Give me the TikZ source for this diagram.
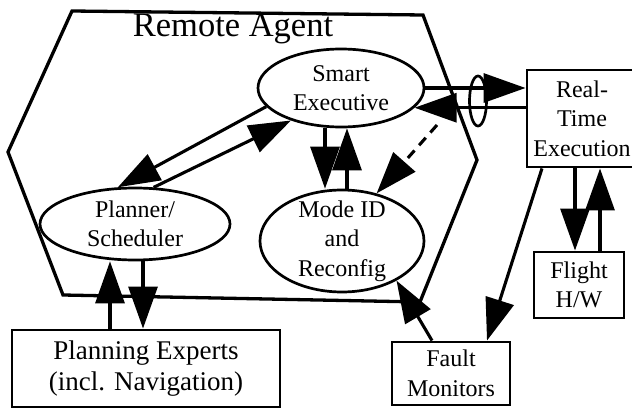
\documentclass[tikz,border=0pt]{standalone}
\usepackage{fontspec}
\setmainfont{Liberation Serif}
\usetikzlibrary{arrows.meta, shapes.geometric}

\begin{document}
\begin{tikzpicture}[x=1pt, y=-1pt,
        every node/.style={font=\fontsize{24}{29.5}\selectfont, align=center},
        proc/.style={ellipse, draw, line width=2.7pt, inner sep=-6pt},
        unit/.style={rectangle, draw, line width=2.9pt, inner sep=0pt},
        flow/.style={line width=3.1pt, -{Triangle[length=42pt, width=29pt]}}]
    \useasboundingbox (0,0) rectangle (632,409);
    % the agent hull
    \draw[line width=3.3pt] (72,11) -- (423,15) -- (477,160) -- (420,302)
        -- (63,295) -- (8,152) -- cycle;
    \node[anchor=base, font=\fontsize{34.5}{40}\selectfont] (ra) at (233,37) {Remote Agent};

    \node[proc, minimum width=166pt, minimum height=78pt] (exec) at (341,88) {Smart\\Executive};
    \node[proc, minimum width=190pt, minimum height=72pt] (planner) at (135,224) {Planner/\\Scheduler};
    \node[proc, minimum width=164pt, minimum height=102pt] (modeid) at (342,241) {Mode ID\\and\\Reconfig};
    \node[unit, minimum width=110pt, minimum height=97pt] (rte) at (582,118.5) {Real-\\Time\\Execution};
    \node[unit, minimum width=90pt, minimum height=66pt] (flight) at (579,285) {Flight\\H/W};
    \node[unit, minimum width=268pt, minimum height=77pt,
        font=\fontsize{27}{31}\selectfont] (pe) at (146,368.5) {Planning Experts\\(incl. Navigation)};
    \node[unit, minimum width=118pt, minimum height=63pt] (fault) at (451,373.5) {Fault\\Monitors};
    \node[ellipse, draw, line width=2.7pt, inner sep=0pt,
        minimum width=17pt, minimum height=50pt] (bundle) at (478,101) {};
    \coordinate (tap) at (437,125);

    \draw[flow] (exec.194) -- (planner.115);
    \draw[flow] (planner.63) -- (exec.213);
    \draw[flow] ([xshift=-16pt]exec.south) -- ([xshift=-17pt]modeid.north);
    \draw[flow] ([xshift=5pt]modeid.north) -- ([xshift=6pt]exec.south);
    \draw[flow, dash pattern=on 10pt off 7pt] (tap) -- (modeid.54);
    \draw[flow] (exec.east) -- (exec.east -| rte.west);
    \draw[flow] (exec.-15 -| rte.west) -- (exec.-15);
    \draw[flow] ([xshift=-7pt]rte.south) -- ([xshift=-4pt]flight.north);
    \draw[flow] ([xshift=21pt]flight.north) -- ([xshift=18pt]rte.south);
    \draw[flow] ([xshift=-40pt]rte.south) -- ([xshift=36pt]fault.north);
    \draw[flow] ([xshift=-19pt]fault.north) -- (modeid.-36);
    \draw[flow] ([xshift=-36pt]pe.north) -- ([xshift=-25pt]planner.south);
    \draw[flow] ([xshift=8pt]planner.south) -- ([xshift=-3pt]pe.north);
\end{tikzpicture}
\end{document}
